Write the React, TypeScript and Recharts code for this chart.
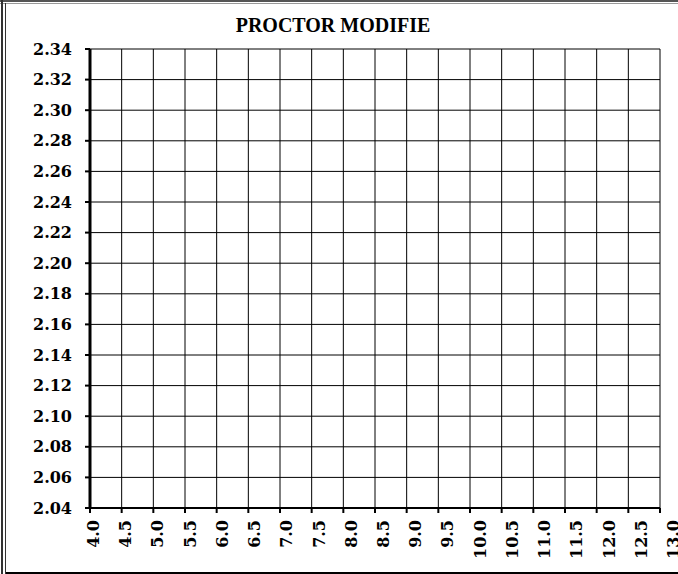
import React from "react";
import { ScatterChart, Scatter, XAxis, YAxis, CartesianGrid } from "recharts";

const title = "PROCTOR MODIFIE";
const xTicks = [4.0, 4.5, 5.0, 5.5, 6.0, 6.5, 7.0, 7.5, 8.0, 8.5, 9.0, 9.5, 10.0, 10.5, 11.0, 11.5, 12.0, 12.5, 13.0];
const yTicks = [2.04, 2.06, 2.08, 2.10, 2.12, 2.14, 2.16, 2.18, 2.20, 2.22, 2.24, 2.26, 2.28, 2.30, 2.32, 2.34];
const measuredPoints: { w: number; d: number }[] = [];

const labelFont = "'DejaVu Serif', Georgia, serif";
const PLOT_LEFT = 90;
const PLOT_WIDTH = 570;

const XTick = (props: any) => {
  const { x, y, payload } = props;
  const t = (x - PLOT_LEFT) / PLOT_WIDTH;
  const bx = x + 9 + 10 * t;
  return (
    <text
      x={0}
      y={0}
      transform={`translate(${bx},${y + 5}) rotate(-90)`}
      textAnchor="end"
      fontFamily={labelFont}
      fontWeight="bold"
      fontSize={16}
      fill="#000"
    >
      {Number(payload.value).toFixed(1)}
    </text>
  );
};

const YTick = (props: any) => {
  const { y, payload } = props;
  return (
    <text
      x={72}
      y={y}
      dy="0.35em"
      textAnchor="end"
      fontFamily={labelFont}
      fontWeight="bold"
      fontSize={16}
      fill="#000"
    >
      {Number(payload.value).toFixed(2)}
    </text>
  );
};

export default function App() {
  return (
    <div style={{ position: "absolute", left: 0, top: 0, width: 678, height: 574, background: "#fff", overflow: "hidden" }}>
      <div style={{ position: "absolute", left: 0, top: 0, width: 678, height: 2, background: "#555" }} />
      <div style={{ position: "absolute", left: 0, top: 3, width: 678, height: 1, background: "#999" }} />
      <div style={{ position: "absolute", left: 1, top: 0, width: 2, height: 574, background: "#333" }} />
      <div style={{ position: "absolute", left: 5, top: 3, width: 1, height: 571, background: "#333" }} />
      <div style={{ position: "absolute", left: 6, top: 572, width: 672, height: 2, background: "#000" }} />
      <div style={{ position: "absolute", left: 0, top: 0 }}>
        <ScatterChart width={678} height={574} margin={{ top: 49, right: 18, bottom: 0, left: 0 }}>
          <text
            x={333}
            y={32}
            textAnchor="middle"
            fontFamily="'Liberation Serif', 'Times New Roman', serif"
            fontWeight="bold"
            fontSize={20}
            fill="#000"
          >
            {title}
          </text>
          <CartesianGrid stroke="#000" strokeWidth={1} />
          <XAxis
            type="number"
            dataKey="w"
            domain={[4, 13]}
            ticks={xTicks}
            interval={0}
            height={66}
            axisLine={{ stroke: "#000", strokeWidth: 2 }}
            tickLine={{ stroke: "#000", strokeWidth: 2 }}
            tickSize={5}
            tick={<XTick />}
            allowDataOverflow
          />
          <YAxis
            type="number"
            dataKey="d"
            domain={[2.04, 2.34]}
            ticks={yTicks}
            interval={0}
            width={90}
            axisLine={{ stroke: "#000", strokeWidth: 3 }}
            tickLine={{ stroke: "#000", strokeWidth: 2 }}
            tickSize={5}
            tick={<YTick />}
            allowDataOverflow
          />
          <Scatter data={measuredPoints} fill="#000" isAnimationActive={false} />
        </ScatterChart>
      </div>
    </div>
  );
}
